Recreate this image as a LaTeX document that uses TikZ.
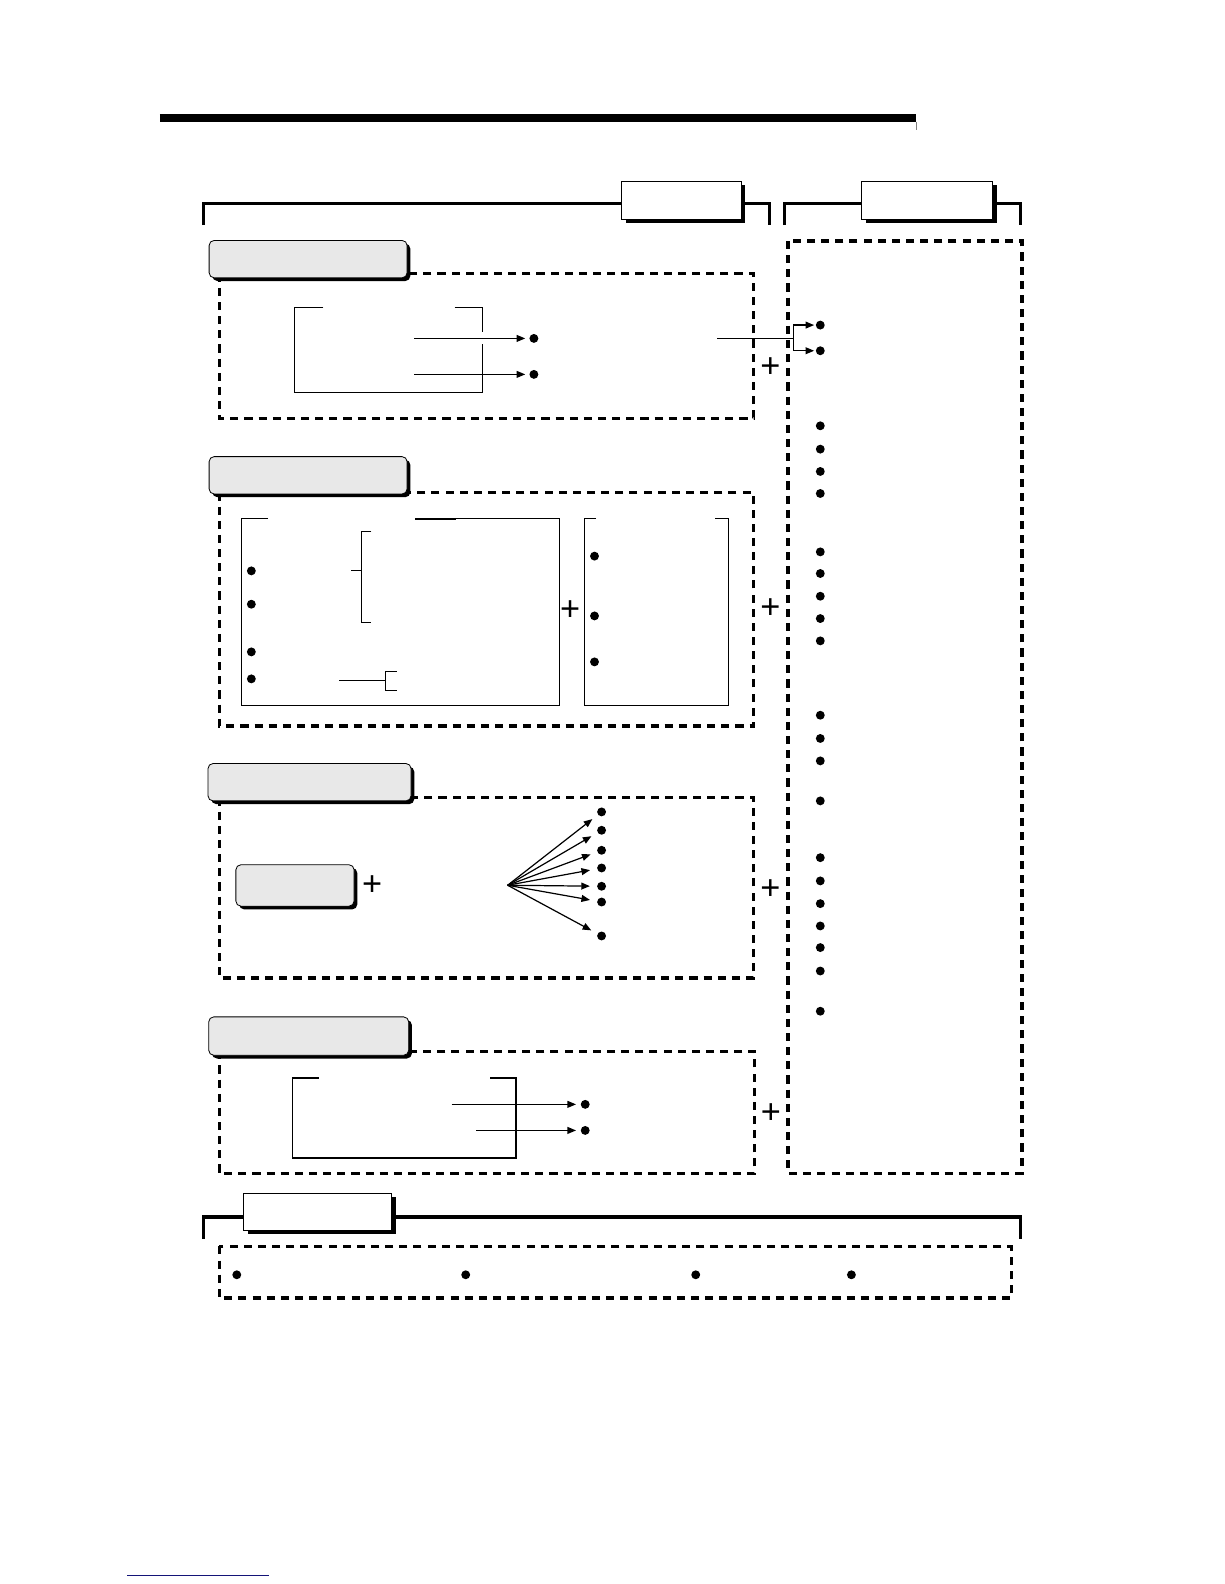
\documentclass[tikz,border=0pt]{standalone}
\usepackage{fontspec}
\newfontfamily\plusfont{Liberation Sans}
\usetikzlibrary{arrows.meta,shadows}
\begin{document}
\begin{tikzpicture}[x=1pt,y=-1pt]
\tikzset{
 dashbox/.style={line width=3.3pt, dash pattern=on 8pt off 6pt},
 thinln/.style={line width=1.2pt},
 arr/.style={thinln, -{Triangle[length=8.5pt,width=6.8pt]}},
 dot/.style={circle, fill=black, inner sep=0pt, minimum size=8.8pt},
 graylabel/.style={draw=black, line width=0.8pt, fill=gray!18, rounded corners=5pt, inner sep=0pt, outer sep=0pt,
   general shadow={fill=black, shadow xshift=3.2pt, shadow yshift=-3.2pt}},
 whitelabel/.style={draw=black, line width=0.8pt, fill=white, inner sep=0pt, outer sep=0pt,
   general shadow={fill=black, shadow xshift=4pt, shadow yshift=-3.5pt}},
 bracketln/.style={line width=3.3pt},
 plussign/.style={inner sep=0pt, font=\plusfont\fontsize{34}{34}\selectfont},
}
\useasboundingbox (0,0) rectangle (1212,1568);

% top rule
\draw[line width=7.6pt] (158.2,116.7) -- (907,116.7);
\draw[line width=0.6pt, gray] (907,120.5) -- (907,128.7);

% top brackets
\draw[bracketln] (201.4,222.8) -- (201.4,201.3) -- (762,201.3) -- (762,222.8);
\draw[bracketln] (776.3,222.8) -- (776.3,201.3) -- (1010.4,201.3) -- (1010.4,222.8);
\node[whitelabel, minimum width=118pt, minimum height=37.3pt] (boxA) at (674.6,198.5) {};
\node[whitelabel, minimum width=129.5pt, minimum height=37.3pt] (boxB) at (917.8,198.5) {};

% dashed frames
\draw[dashbox] (217,271) rectangle (746,414);
\draw[dashbox] (217,487.5) rectangle (746,718.5);
\draw[dashbox] (217,789.5) rectangle (746,968);
\draw[dashbox] (217,1040.7) rectangle (746.8,1161.8);
\draw[dashbox] (780,238.6) rectangle (1011.5,1161.5);

% section labels
\node[graylabel, minimum width=196pt, minimum height=37pt] (L1) at (305,256.5) {};
\node[graylabel, minimum width=196pt, minimum height=37pt] (L2) at (305,470.5) {};
\node[graylabel, minimum width=201pt, minimum height=37pt] (L3) at (306.4,774.3) {};
\node[graylabel, minimum width=198pt, minimum height=38pt] (L4) at (305.6,1025.6) {};

% ---------- section 1 ----------
\draw[thinln] (320,304.3) -- (291.4,304.3) -- (291.4,388.8) -- (477.6,388.8) -- (477.6,341);
\draw[thinln] (450,304.3) -- (477.6,304.3) -- (477.6,328.4);
\coordinate (s1a) at (410,335);
\coordinate (s1b) at (410,370.6);
\node[dot] (d1a) at (528.5,335) {};
\node[dot] (d1b) at (528.5,370.6) {};
\draw[arr, shorten >=4pt] (s1a) -- (d1a);
\draw[arr, shorten >=4pt] (s1b) -- (d1b);
\coordinate (c1) at (710,335);
\coordinate (j1) at (785.5,335);
\node[dot] (r1) at (812,321.8) {};
\node[dot] (r2) at (812,347.2) {};
\draw[thinln] (c1) -- (j1);
\draw[arr, shorten >=1.5pt] (j1) |- (r1);
\draw[arr, shorten >=1.5pt] (j1) |- (r2);
\node[plussign] (p1) at (762.5,363.7) {+};

% ---------- section 2 ----------
\draw[thinln] (265.5,513.3) -- (238.8,513.3) -- (238.8,698.1) -- (553.6,698.1) -- (553.6,513.3) -- (411,513.3);
\draw[line width=1.9pt] (411,513.3) -- (451,513.3);
\foreach \yy in {565.1,598.1,645.3,672} \node[dot] at (248.8,\yy) {};
\draw[thinln] (367.7,526.5) -- (357.8,526.5) -- (357.8,616.2) -- (367.7,616.2);
\draw[thinln] (347.8,565.1) -- (357.8,565.1);
\draw[thinln] (335.8,674) -- (381.9,674);
\draw[thinln] (392.5,664.4) -- (381.9,664.4) -- (381.9,683.2) -- (392.5,683.2);
\node[plussign] (p2i) at (564.3,604) {+};
\draw[thinln] (590.2,513.3) -- (578.5,513.3) -- (578.5,698.1) -- (720.9,698.1) -- (720.9,513.3) -- (708,513.3);
\foreach \yy in {550.5,609.7,655.2} \node[dot] at (588.5,\yy) {};
\node[plussign] (p2) at (762.5,602.4) {+};

% ---------- section 3 ----------
\node[graylabel, minimum width=117pt, minimum height=41pt] (g3) at (292,876.5) {};
\node[plussign] (p3i) at (368.3,876.3) {+};
\coordinate (fan) at (502.5,876.3);
\foreach \yy [count=\i] in {803.7,821.9,841.7,859.2,877.3,892.9,926.5}
  \node[dot] (f\i) at (595.5,\yy) {};
\foreach \i in {1,...,7} \draw[arr, shorten >=7pt] (fan) -- (f\i);
\node[plussign] (p3) at (762.5,880.6) {+};

% ---------- section 4 ----------
\draw[thinln] (315.3,1067.1) -- (289.3,1067.1) -- (289.3,1146.3) -- (510.8,1146.3) -- (510.8,1067.1) -- (484.9,1067.1);
\coordinate (s4a) at (447,1093.2);
\coordinate (s4b) at (471.3,1119);
\node[dot] (d4a) at (579.3,1093.2) {};
\node[dot] (d4b) at (579.3,1119) {};
\draw[arr, shorten >=4.5pt] (s4a) -- (d4a);
\draw[arr, shorten >=4.5pt] (s4b) -- (d4b);
\node[plussign] (p4) at (763,1102) {+};

% ---------- right panel dots ----------
\foreach \yy in {421.5,444.6,466.7,488.5,546.3,567.7,590.2,612.3,634.4,708,731,753.2,792.8,849,872,894.5,916.6,938,961.2,1001}
  \node[dot] at (812,\yy) {};

% ---------- bottom ----------
\draw[bracketln] (201.7,1226.2) -- (201.7,1204.7) -- (1010,1204.7) -- (1010,1226.2);
\node[whitelabel, minimum width=146.3pt, minimum height=37pt, general shadow={fill=black, shadow xshift=5pt, shadow yshift=-3.5pt}] (boxC) at (314.3,1199.5) {};
\draw[dashbox] (217.2,1233.8) rectangle (1001,1285);
\foreach \xx in {234.4,461,688.7,842.8} \node[dot] at (\xx,1261.9) {};

% footer rule
\draw[line width=1.2pt, color={rgb,255:red,20;green,20;blue,120}] (126,1559.6) -- (266.4,1559.6);
\end{tikzpicture}
\end{document}
